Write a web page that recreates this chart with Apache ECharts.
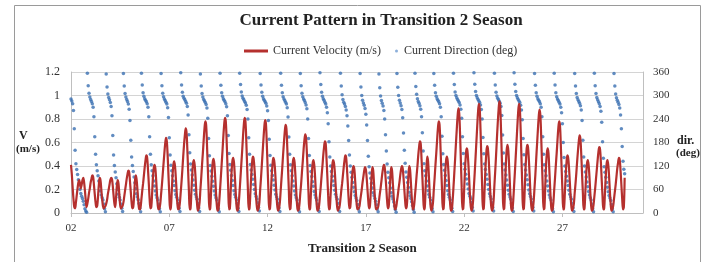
<!DOCTYPE html>
<html>
<head>
<meta charset="utf-8">
<script src="https://cdn.jsdelivr.net/npm/echarts@6/dist/echarts.min.js"></script>
<style>
  html, body { margin: 0; padding: 0; background: #fff; }
  #chart { width: 709px; height: 262px; }
</style>
</head>
<body>
<div id="chart"></div>
<script>
// Hourly samples starting at day 02, one line per tidal (daily) cycle
const startDay = 2;
const xTickLabels = ["02", "07", "12", "17", "22", "27"];

// Current velocity (m/s)
const velocity = [
  0.41,0.33,0.22,0.12,0.05,0.04,0.09,0.15,0.21,0.26,0.28,0.25,0.21,0.24,0.28,0.30,0.26,0.19,0.11,0.05,
  0.08,0.12,0.17,0.21,0.26,0.29,0.32,0.31,0.24,0.16,0.09,0.05,0.06,0.14,0.24,0.30,0.28,0.20,0.12,0.06,0.04,0.05,0.06,
  0.08,0.11,0.16,0.20,0.24,0.28,0.30,0.29,0.23,0.15,0.08,0.05,0.13,0.23,0.28,0.25,0.16,0.07,0.04,0.05,0.06,
  0.09,0.14,0.19,0.24,0.29,0.33,0.36,0.35,0.27,0.18,0.09,0.04,0.05,0.14,0.26,0.32,0.29,0.21,0.12,0.04,0.03,0.05,
  0.12,0.19,0.25,0.32,0.39,0.45,0.49,0.47,0.37,0.25,0.12,0.04,0.05,0.16,0.30,0.38,0.41,0.38,0.28,0.16,0.06,0.03,0.04,0.08,
  0.16,0.24,0.33,0.42,0.51,0.59,0.64,0.61,0.49,0.32,0.16,0.03,0.05,0.18,0.32,0.41,0.44,0.40,0.30,0.18,0.07,0.03,0.04,0.09,
  0.18,0.27,0.37,0.48,0.58,0.66,0.72,0.69,0.55,0.36,0.18,0.03,0.04,0.18,0.32,0.42,0.45,0.41,0.31,0.18,0.07,0.02,0.04,0.09,
  0.20,0.30,0.41,0.51,0.62,0.72,0.78,0.75,0.59,0.39,0.20,0.03,0.04,0.18,0.33,0.43,0.46,0.42,0.31,0.18,0.07,0.02,0.03,0.10,
  0.20,0.31,0.42,0.53,0.65,0.75,0.81,0.78,0.62,0.41,0.20,0.03,0.04,0.19,0.34,0.44,0.47,0.43,0.32,0.19,0.07,0.02,0.03,0.10,
  0.20,0.31,0.42,0.53,0.65,0.75,0.81,0.78,0.62,0.41,0.20,0.03,0.04,0.17,0.31,0.42,0.48,0.46,0.38,0.27,0.14,0.05,0.02,0.04,0.09,
  0.20,0.30,0.41,0.52,0.63,0.73,0.79,0.76,0.60,0.40,0.20,0.03,0.04,0.16,0.31,0.41,0.47,0.45,0.38,0.26,0.14,0.05,0.02,0.04,0.09,
  0.19,0.29,0.39,0.50,0.60,0.69,0.75,0.72,0.57,0.38,0.19,0.03,0.04,0.19,0.34,0.44,0.47,0.43,0.32,0.19,0.07,0.02,0.03,0.08,
  0.17,0.25,0.35,0.44,0.54,0.62,0.67,0.64,0.51,0.34,0.17,0.03,0.04,0.18,0.32,0.42,0.45,0.41,0.31,0.18,0.07,0.02,0.03,0.07,
  0.15,0.23,0.32,0.40,0.49,0.56,0.61,0.59,0.46,0.31,0.15,0.03,0.04,0.16,0.29,0.40,0.45,0.43,0.36,0.25,0.14,0.05,0.02,0.04,0.06,
  0.12,0.19,0.25,0.32,0.39,0.45,0.49,0.47,0.37,0.25,0.12,0.04,0.05,0.16,0.29,0.37,0.40,0.37,0.27,0.16,0.06,0.03,0.04,0.05,
  0.10,0.15,0.20,0.26,0.31,0.36,0.39,0.37,0.30,0.20,0.10,0.04,0.06,0.18,0.31,0.39,0.36,0.25,0.14,0.05,0.03,0.04,0.05,
  0.10,0.16,0.21,0.27,0.33,0.38,0.41,0.39,0.31,0.21,0.10,0.04,0.06,0.18,0.31,0.39,0.36,0.25,0.14,0.05,0.03,0.05,
  0.10,0.15,0.21,0.26,0.32,0.37,0.40,0.38,0.30,0.20,0.10,0.04,0.06,0.18,0.32,0.40,0.37,0.26,0.14,0.05,0.03,0.07,
  0.15,0.23,0.32,0.40,0.49,0.56,0.61,0.59,0.46,0.31,0.15,0.03,0.05,0.22,0.38,0.48,0.44,0.31,0.17,0.06,0.02,0.04,0.09,
  0.20,0.30,0.41,0.51,0.62,0.72,0.78,0.75,0.59,0.39,0.20,0.03,0.04,0.19,0.35,0.45,0.48,0.44,0.33,0.19,0.07,0.02,0.03,0.11,
  0.22,0.34,0.46,0.59,0.71,0.82,0.89,0.85,0.68,0.45,0.22,0.03,0.04,0.19,0.36,0.48,0.55,0.53,0.44,0.31,0.17,0.06,0.02,0.04,0.11,
  0.23,0.35,0.48,0.61,0.74,0.86,0.93,0.89,0.71,0.47,0.23,0.03,0.04,0.20,0.37,0.50,0.57,0.55,0.46,0.32,0.17,0.06,0.02,0.04,0.11,
  0.24,0.36,0.49,0.63,0.76,0.87,0.95,0.91,0.72,0.48,0.24,0.03,0.04,0.23,0.42,0.54,0.58,0.53,0.39,0.23,0.09,0.02,0.03,0.11,
  0.23,0.35,0.48,0.61,0.74,0.86,0.93,0.89,0.71,0.47,0.23,0.03,0.04,0.20,0.38,0.51,0.58,0.56,0.46,0.32,0.17,0.06,0.02,0.04,0.11,
  0.22,0.33,0.46,0.58,0.70,0.81,0.88,0.84,0.67,0.44,0.22,0.03,0.04,0.22,0.40,0.51,0.55,0.51,0.37,0.22,0.08,0.02,0.03,0.09,
  0.20,0.30,0.41,0.51,0.62,0.72,0.78,0.75,0.59,0.39,0.20,0.03,0.04,0.17,0.32,0.43,0.49,0.47,0.39,0.27,0.15,0.05,0.02,0.04,0.08,
  0.17,0.25,0.34,0.44,0.53,0.61,0.66,0.63,0.50,0.33,0.17,0.03,0.04,0.18,0.32,0.42,0.45,0.41,0.31,0.18,0.07,0.02,0.03,0.07,
  0.14,0.21,0.29,0.37,0.45,0.52,0.56,0.54,0.43,0.28,0.14,0.03,0.04,0.18,0.32,0.42,0.45,0.41,0.31,0.18,0.07,0.02,0.03,0.06,
  0.12,0.18,0.24,0.31,0.38,0.43,0.47,0.45,0.36,0.24,0.12,0.03,0.05,0.30
];

// Current direction (deg)
const direction = [
  291,286,279,262,215,160,126,111,98,85,72,60,50,43,37,30,21,11,5,2,
  357,325,306,296,290,285,279,270,246,195,150,123,108,95,82,69,56,46,39,33,23,11,3,
  355,322,304,295,289,282,272,248,198,148,121,105,90,75,60,48,40,33,23,12,4,
  356,324,305,296,290,285,278,265,236,186,143,121,106,92,77,62,49,41,34,24,12,3,
  357,327,307,298,292,288,284,279,270,246,195,150,123,108,95,82,69,56,46,39,33,23,11,3,
  356,325,306,297,291,287,283,278,269,244,192,148,122,108,95,82,70,57,47,40,34,24,12,4,
  358,327,308,298,293,289,285,280,272,250,200,154,125,110,97,84,71,58,48,41,35,25,13,4,
  355,324,305,296,290,286,282,277,268,242,190,146,121,107,94,81,68,56,46,39,33,23,11,3,
  357,326,307,298,292,288,284,279,271,248,198,152,124,109,96,83,70,57,47,40,34,24,12,4,
  357,328,309,299,293,289,285,281,275,264,240,192,150,124,110,98,86,73,60,49,42,36,26,14,5,
  356,327,308,298,292,288,284,280,273,261,236,188,147,122,108,96,84,71,59,48,41,35,25,13,4,
  357,326,307,297,291,287,283,278,269,245,194,150,123,108,95,82,69,56,46,39,33,23,11,3,
  356,325,306,297,291,287,282,276,266,240,190,147,121,106,93,80,68,55,46,39,33,23,12,4,
  358,328,308,298,292,288,283,278,270,256,228,182,143,120,106,94,82,70,58,48,41,35,25,13,4,
  357,324,302,290,283,278,272,263,248,222,185,148,120,104,91,78,66,54,45,38,32,22,11,3,
  356,322,300,288,281,275,267,252,225,185,145,118,102,89,76,64,52,44,37,30,21,10,3,
  355,320,299,287,280,273,262,240,200,158,125,104,90,77,64,52,43,36,28,18,9,2,
  356,321,300,288,281,274,264,243,204,160,127,105,91,78,65,53,44,37,29,19,9,2,
  357,323,303,292,285,280,274,265,246,205,158,126,108,95,82,69,57,47,40,33,23,11,3,
  356,326,307,298,292,288,284,279,270,246,196,151,124,109,96,83,70,57,47,40,34,24,12,4,
  357,328,309,300,294,290,286,282,276,265,242,195,152,126,112,99,87,74,61,50,43,37,27,14,5,
  358,329,310,300,294,290,286,282,276,264,240,193,151,125,111,98,86,73,60,49,42,36,26,14,5,
  357,327,308,299,293,289,285,280,272,249,199,153,125,110,97,84,71,58,48,41,35,25,13,4,
  358,329,310,300,294,290,286,282,275,263,238,190,149,124,110,97,85,72,59,49,42,36,26,14,5,
  356,326,307,298,292,288,284,279,270,246,195,150,123,108,95,82,69,56,46,39,33,23,11,3,
  357,327,307,297,291,287,283,278,270,256,228,180,142,120,106,94,82,70,58,48,41,35,25,13,4,
  356,324,305,295,289,285,280,274,263,236,186,143,120,105,92,79,67,55,46,39,33,23,11,3,
  357,325,305,295,289,284,279,272,260,232,182,140,118,104,91,78,66,54,45,38,32,22,11,3,
  356,324,304,294,288,283,277,268,250,215,170,132,112,100
];

const serif = "'Liberation Serif', 'DejaVu Serif', serif";
const legendText = { fontFamily: serif, fontSize: 12, color: "#333" };

const chart = echarts.init(document.getElementById("chart"), null, { renderer: "canvas" });

const velPoints = velocity.map((v, i) => [startDay + i / 24, v]);
const dirPoints = direction.map((v, i) => [startDay + i / 24, v]);

const option = {
  animation: false,
  backgroundColor: "#fff",
  title: {
    text: "Current Pattern in Transition 2 Season",
    left: 376,
    top: 7,
    textAlign: "center",
    textStyle: { fontFamily: serif, fontSize: 17, fontWeight: "bold", color: "#222" },
  },
  // two legends so each marker keeps its own width
  legend: [
    {
      left: 239,
      top: 40,
      itemWidth: 24,
      itemHeight: 3,
      textStyle: legendText,
      data: [{ name: "Current Velocity (m/s)", icon: "rect" }],
    },
    {
      left: 390,
      top: 40,
      itemWidth: 5,
      itemHeight: 3,
      itemGap: 0,
      textStyle: legendText,
      data: [{ name: "Current Direction (deg)", icon: "circle", itemStyle: { color: "#6f9bd1" } }],
    },
  ],
  grid: { left: 71, right: 66, top: 72, bottom: 49 },
  xAxis: {
    type: "value",
    min: 2,
    max: 31.1,
    interval: 5,
    axisLine: { lineStyle: { color: "#bfbfbf" } },
    axisTick: { show: true, length: 4, lineStyle: { color: "#bfbfbf" } },
    axisLabel: {
      margin: 10,
      fontFamily: serif,
      fontSize: 11,
      color: "#333",
      showMaxLabel: false,
      formatter: (v) => xTickLabels[Math.round((v - startDay) / 5)] ?? "",
    },
    splitLine: { show: false },
  },
  yAxis: [
    {
      type: "value",
      min: 0,
      max: 1.2,
      interval: 0.2,
      axisLine: { show: true, lineStyle: { color: "#bfbfbf" } },
      axisTick: { show: false },
      axisLabel: { margin: 11, fontFamily: serif, fontSize: 12, color: "#333" },
      splitLine: { lineStyle: { color: "#d4d4d4", width: 1 } },
    },
    {
      type: "value",
      min: 0,
      max: 360,
      interval: 60,
      axisLine: { show: true, lineStyle: { color: "#bfbfbf" } },
      axisTick: { show: false },
      axisLabel: { margin: 10, fontFamily: serif, fontSize: 11, color: "#333" },
      splitLine: { show: false },
    },
  ],
  series: [
    {
      name: "Current Velocity (m/s)",
      type: "line",
      yAxisIndex: 0,
      data: velPoints,
      showSymbol: false,
      smooth: 0.35,
      lineStyle: { color: "#b5302e", width: 2.2 },
      itemStyle: { color: "#b5302e" },
    },
    {
      name: "Current Direction (deg)",
      type: "scatter",
      yAxisIndex: 1,
      data: dirPoints,
      symbolSize: 3.5,
      itemStyle: { color: "#3a6fb2" },
    },
  ],
  graphic: [
    {
      type: "rect",
      shape: { x: 14.5, y: 5.5, width: 686, height: 270 },
      style: { fill: "none", stroke: "#9a9a9a", lineWidth: 1 },
      silent: true,
    },
    { type: "text", left: 19, top: 130, style: { text: "V", font: "bold 12px " + serif, fill: "#222" } },
    { type: "text", left: 16, top: 144, style: { text: "(m/s)", font: "bold 11px " + serif, fill: "#222" } },
    { type: "text", left: 677, top: 135, style: { text: "dir.", font: "bold 12px " + serif, fill: "#222" } },
    { type: "text", left: 676, top: 148, style: { text: "(deg)", font: "bold 11px " + serif, fill: "#222" } },
    {
      type: "text",
      left: 308,
      top: 242,
      style: { text: "Transition 2 Season", font: "bold 13px " + serif, fill: "#222" },
    },
  ],
};

chart.setOption(option);
</script>
</body>
</html>
